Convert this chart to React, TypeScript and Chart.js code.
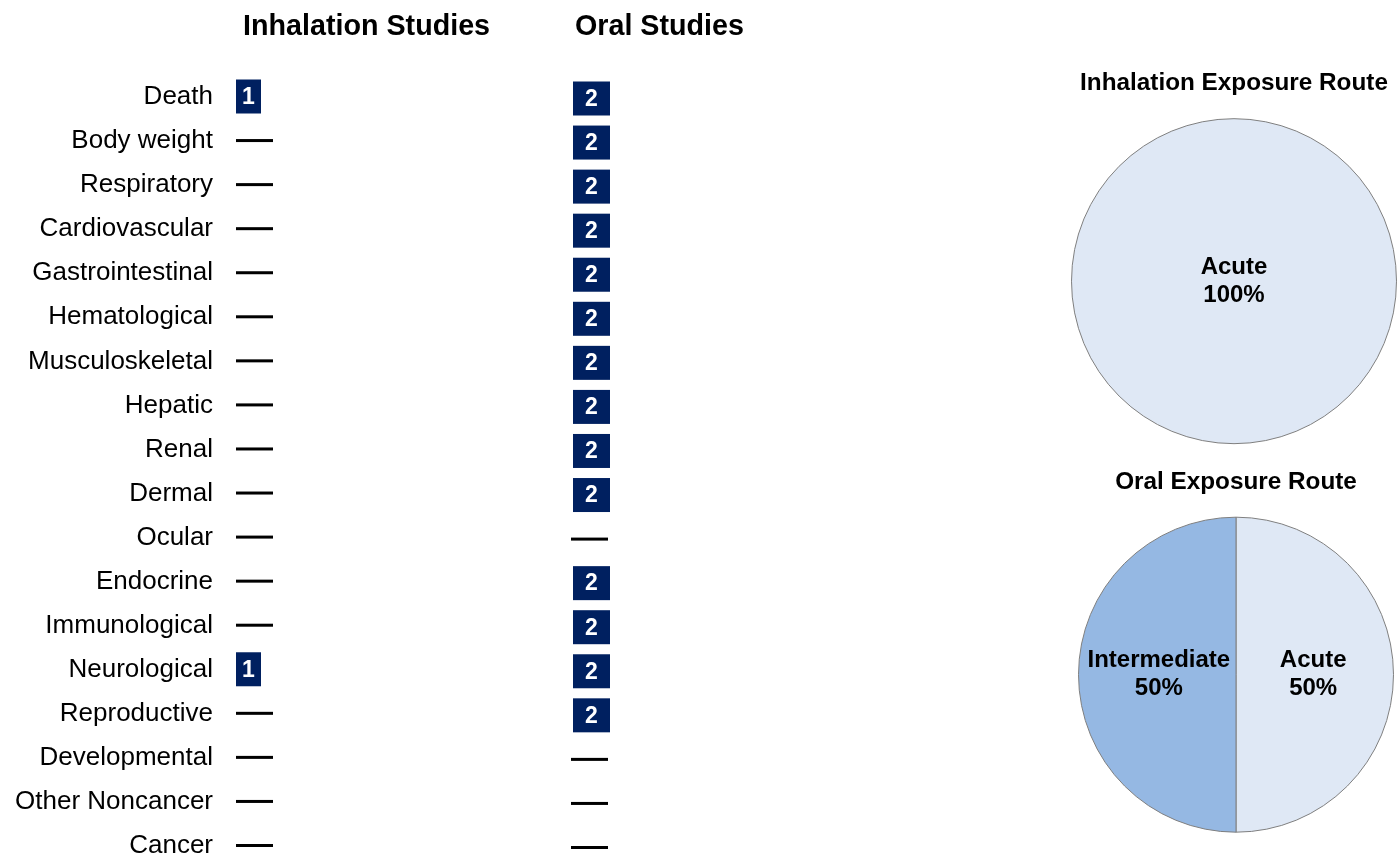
import React, { useEffect, useRef } from 'react';
import { Chart, registerables } from 'chart.js';

Chart.register(...registerables);

const FONT = "'Liberation Sans', Arial, Helvetica, sans-serif";
const NAVY = '#002060';

// ---- data ----
const endpoints = [
  'Death', 'Body weight', 'Respiratory', 'Cardiovascular', 'Gastrointestinal',
  'Hematological', 'Musculoskeletal', 'Hepatic', 'Renal', 'Dermal', 'Ocular',
  'Endocrine', 'Immunological', 'Neurological', 'Reproductive', 'Developmental',
  'Other Noncancer', 'Cancer',
];
const studyRoutes = ['Inhalation Studies', 'Oral Studies'];
const inhalationStudies = [1, 0, 0, 0, 0, 0, 0, 0, 0, 0, 0, 0, 0, 1, 0, 0, 0, 0];
const oralStudies = [2, 2, 2, 2, 2, 2, 2, 2, 2, 2, 0, 2, 2, 2, 2, 0, 0, 0];

const inhalationDurationLabels = ['Acute'];
const inhalationDurationPct = [100];
const oralDurationLabels = ['Acute', 'Intermediate'];
const oralDurationPct = [50, 50];
const durationColors: Record<string, string> = { Acute: '#dfe8f5', Intermediate: '#95b8e3' };

// ---- plugins ----
const studyMarksPlugin = {
  id: 'studyMarks',
  afterDatasetsDraw(chart: any) {
    const ctx = chart.ctx;
    chart.data.datasets.forEach((ds: any, di: number) => {
      const meta = chart.getDatasetMeta(di);
      const dy = di === 1 ? 1.5 : -0.5;
      const boxShift = di === 1 ? -2 : -7;
      const dashShift = di === 1 ? -4 : -7;
      meta.data.forEach((pt: any, i: number) => {
        const n = ds.data[i].n;
        const { x, y } = pt.getProps(['x', 'y'], true);
        ctx.save();
        if (n > 0) {
          const w = 13 + 12 * n;
          const h = 34;
          ctx.fillStyle = NAVY;
          ctx.fillRect(x + boxShift, y + dy - h / 2, w, h);
          ctx.fillStyle = '#ffffff';
          ctx.font = `bold 23px ${FONT}`;
          ctx.textAlign = 'center';
          ctx.textBaseline = 'middle';
          ctx.fillText(String(n), x + boxShift + w / 2, y + dy + 1);
        } else {
          ctx.fillStyle = '#000000';
          ctx.fillRect(x + dashShift, y + dy - 1.5, 37, 3);
        }
        ctx.restore();
      });
    });
  },
};

const sliceLabelPlugin = {
  id: 'sliceLabels',
  afterDatasetsDraw(chart: any) {
    const ctx = chart.ctx;
    const ds = chart.data.datasets[0];
    const meta = chart.getDatasetMeta(0);
    const total = ds.data.reduce((a: number, b: number) => a + b, 0);
    meta.data.forEach((arc: any, i: number) => {
      const { x, y, startAngle, endAngle, outerRadius } = arc.getProps(
        ['x', 'y', 'startAngle', 'endAngle', 'outerRadius'], true);
      let cx = x;
      let cy = y;
      const full = endAngle - startAngle >= 2 * Math.PI - 1e-6;
      ctx.save();
      if (full) {
        // outline of a whole-circle slice (no radial seam)
        ctx.beginPath();
        ctx.arc(x, y, outerRadius, 0, 2 * Math.PI);
        ctx.strokeStyle = '#7f7f7f';
        ctx.lineWidth = 1;
        ctx.stroke();
      } else {
        const mid = (startAngle + endAngle) / 2;
        cx = x + Math.cos(mid) * outerRadius * 0.49;
        cy = y + Math.sin(mid) * outerRadius * 0.49;
      }
      const pct = Math.round((ds.data[i] / total) * 100);
      ctx.font = `bold 24px ${FONT}`;
      ctx.fillStyle = '#000000';
      ctx.textAlign = 'center';
      ctx.textBaseline = 'middle';
      ctx.fillText(chart.data.labels[i], cx, cy - 14);
      ctx.fillText(pct + '%', cx, cy + 14);
      ctx.restore();
    });
  },
};

// ---- configs ----
function studiesConfig(): any {
  const mk = (route: string, counts: number[]) =>
    endpoints.map((e, i) => ({ x: route, y: e, n: counts[i] }));
  return {
    type: 'scatter',
    data: {
      datasets: [
        { label: studyRoutes[0], data: mk(studyRoutes[0], inhalationStudies), pointRadius: 0 },
        { label: studyRoutes[1], data: mk(studyRoutes[1], oralStudies), pointRadius: 0 },
      ],
    },
    options: {
      responsive: false,
      animation: false,
      events: [],
      layout: { padding: { left: 0, top: 0, right: 245, bottom: 10 } },
      plugins: { legend: { display: false }, tooltip: { enabled: false } },
      scales: {
        x: {
          type: 'category',
          labels: studyRoutes,
          position: 'top',
          offset: false,
          grid: { display: false, drawTicks: false },
          border: { display: false },
          ticks: {
            align: 'start',
            padding: 53,
            color: '#000',
            autoSkip: false,
            maxRotation: 0,
            font: { family: FONT, size: 28.7, weight: 'bold' },
          },
          afterFit: (s: any) => { s.height = 97; s.paddingLeft = 0; },
        },
        y: {
          type: 'category',
          labels: endpoints,
          offset: false,
          grid: { display: false, drawTicks: false },
          border: { display: false },
          ticks: {
            padding: 30,
            color: '#000',
            autoSkip: false,
            font: { family: FONT, size: 26 },
          },
          afterFit: (s: any) => { s.width = 243; s.paddingTop = 0; s.paddingBottom = 0; },
        },
      },
    },
    plugins: [studyMarksPlugin],
  };
}

function pieConfig(title: string, labels: string[], values: number[], radius: number, padTop: number): any {
  const total = values.reduce((a, b) => a + b, 0);
  return {
    type: 'pie',
    data: {
      labels,
      datasets: [{
        data: values,
        backgroundColor: labels.map((l) => durationColors[l]),
        borderColor: '#7f7f7f',
        borderWidth: values.map((v) => (v >= total ? 0 : 1)),
        radius,
      }],
    },
    options: {
      responsive: false,
      animation: false,
      events: [],
      layout: { padding: { bottom: 2 } },
      plugins: {
        legend: { display: false },
        tooltip: { enabled: false },
        title: {
          display: true,
          text: title,
          color: '#000',
          font: { family: FONT, size: 24.3, weight: 'bold', lineHeight: 1.2 },
          padding: { top: padTop, bottom: 20.6 },
        },
      },
    },
    plugins: [sliceLabelPlugin],
  };
}

function ChartCanvas({ make, left, top, width, height }: any) {
  const ref = useRef<HTMLCanvasElement | null>(null);
  useEffect(() => {
    const chart = new Chart(ref.current as HTMLCanvasElement, make());
    return () => chart.destroy();
  }, []);
  return (
    <canvas
      ref={ref}
      width={width}
      height={height}
      style={{ position: 'absolute', left, top, width, height }}
    />
  );
}

export default function App() {
  return (
    <div style={{ position: 'fixed', left: 0, top: 0, width: 1399, height: 856, overflow: 'hidden', background: '#fff' }}>
      <ChartCanvas make={studiesConfig} left={0} top={0} width={820} height={856} />
      <ChartCanvas
        make={() => pieConfig('Inhalation Exposure Route', inhalationDurationLabels, inhalationDurationPct, 162.5, 8.6)}
        left={1070} top={60} width={328} height={386}
      />
      <ChartCanvas
        make={() => pieConfig('Oral Exposure Route', oralDurationLabels, oralDurationPct, 157.5, 17.6)}
        left={1072} top={450} width={328} height={384}
      />
    </div>
  );
}
